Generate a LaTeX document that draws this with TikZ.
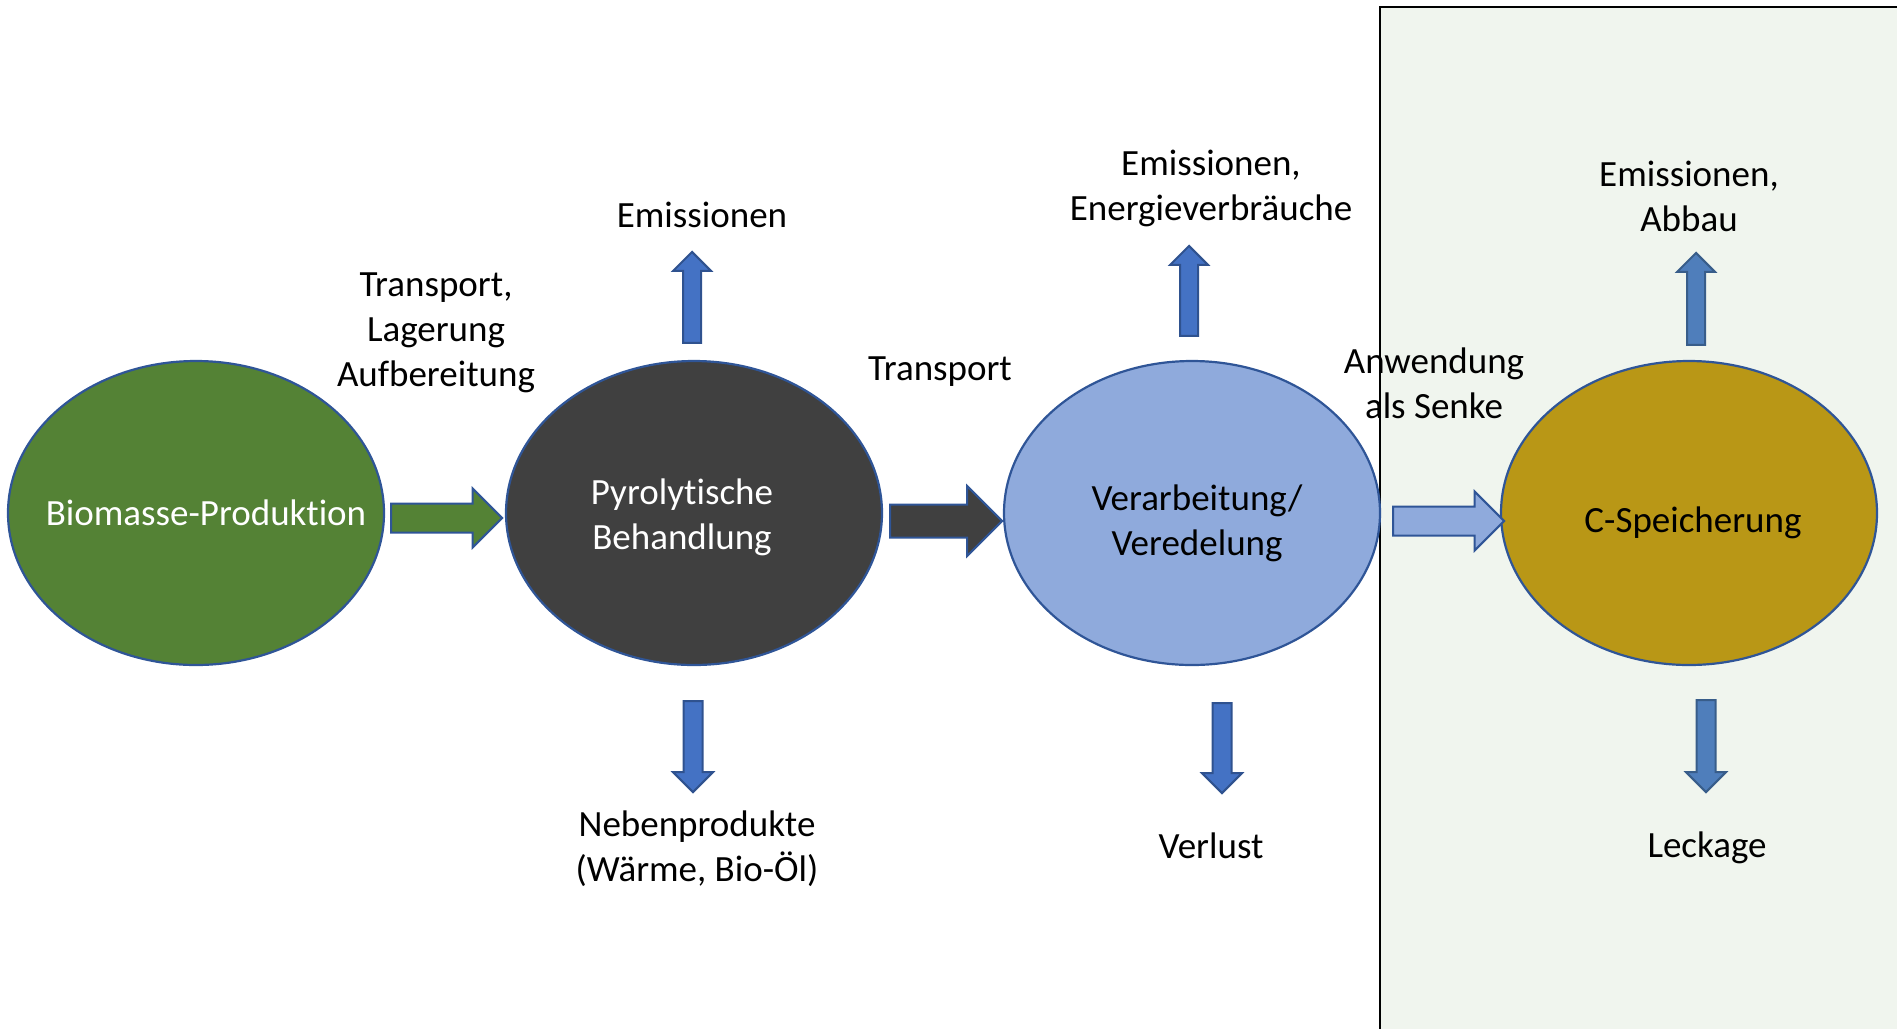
\documentclass[tikz,border=0pt]{standalone}
\usepackage{fontspec}
\setmainfont{Carlito}[Ligatures=NoCommon]
\usetikzlibrary{shapes.geometric}

\definecolor{biogreen}{HTML}{548235}
\definecolor{pyrogray}{HTML}{404040}
\definecolor{procblue}{HTML}{8FAADC}
\definecolor{storegold}{HTML}{B99716}
\definecolor{edgeblue}{HTML}{2F5597}
\definecolor{arrowblue}{HTML}{4472C4}
\definecolor{arrowedge}{HTML}{2F528F}
\definecolor{oldblue}{HTML}{4F7EBB}
\definecolor{oldedge}{HTML}{385D8A}
\definecolor{boxfill}{HTML}{F0F5EE}

\tikzset{
  stage/.style={ellipse, draw=edgeblue, line width=2.2pt, minimum width=376pt, minimum height=304pt, inner sep=0pt},
  txt/.style={font=\fontsize{37}{45}\selectfont, align=center, inner sep=0pt},
  flow/.style={draw=arrowedge, line width=2pt},
  pics/fatarrow/.style args={#1/#2/#3}{code={
    \path[pic actions] (0,-#2) -- ({#1-#3},-#2) -- ({#1-#3},-#3) -- (#1,0)
      -- ({#1-#3},#3) -- ({#1-#3},#2) -- (0,#2) -- cycle;
  }},
}

\begin{document}
\begin{tikzpicture}[x=1pt,y=-1pt]
  \useasboundingbox (0,0) rectangle (1897,1029);

  % storage frame
  \fill[boxfill] (1380,7) rectangle (1897,1029);
  \draw[line width=2.5pt] (1897,7) -- (1380,7) -- (1380,1029);

  % process stages
  \node[stage, fill=biogreen] (bio) at (196,513) {};
  \node[stage, fill=pyrogray] (pyro) at (694,513) {};
  \node[stage, fill=procblue] (proc) at (1192,513) {};
  \node[stage, fill=storegold] (store) at (1689,513) {};

  \node[txt, white] (biolbl) at (206,513) {Biomasse-Produktion};
  \node[txt, white] (pyrolbl) at (682,517) {Pyrolytische\\Behandlung};
  \node[txt] (proclbl) at (1197,523) {Verarbeitung/\\Veredelung};
  \node[txt] (storelbl) at (1693,523) {C-Speicherung};

  % main flow
  \pic[flow, fill=biogreen, draw=edgeblue] at ([xshift=6pt,yshift=-5pt]bio.east) {fatarrow=111/14.5/29.5};
  \pic[flow, fill=pyrogray, draw=edgeblue] at ([xshift=7pt,yshift=-8pt]pyro.east) {fatarrow=112/16.5/35};
  \pic[flow, fill=procblue, draw=edgeblue] at ([xshift=12pt,yshift=-8pt]proc.east) {fatarrow=111/14.5/29.5};

  % side flows
  \pic[flow, fill=arrowblue, rotate=90] at ([xshift=-2pt,yshift=17pt]pyro.north) {fatarrow=91/9/19};
  \pic[flow, fill=arrowblue, rotate=-90] at ([xshift=-1pt,yshift=-35pt]pyro.south) {fatarrow=91/9.5/20};
  \pic[flow, fill=arrowblue, rotate=90] at ([xshift=-3pt,yshift=24pt]proc.north) {fatarrow=90/9/19};
  \pic[flow, fill=arrowblue, rotate=-90] at ([xshift=30pt,yshift=-37pt]proc.south) {fatarrow=90/9.5/20};
  \pic[flow, fill=oldblue, draw=oldedge, rotate=90] at ([xshift=7pt,yshift=15pt]store.north) {fatarrow=92/9/19};
  \pic[flow, fill=oldblue, draw=oldedge, rotate=-90] at ([xshift=17pt,yshift=-34pt]store.south) {fatarrow=92/9.5/20};

  % labels
  \node[txt] (transp1) at (436,333) {Transport,\\Lagerung\\Aufbereitung};
  \node[txt] (emis1) at (702,215) {Emissionen};
  \node[txt] (transp2) at (940,372) {Transport};
  \node[txt] (emis2) at (1211,188) {Emissionen,\\Energieverbräuche};
  \node[txt] (sink) at (1434,383) {Anwendung\\als Senke};
  \node[txt] (emis3) at (1689,196) {Emissionen,\\Abbau};
  \node[txt] (byprod) at (697,849) {Nebenprodukte\\(Wärme, Bio-Öl)};
  \node[txt] (loss) at (1211,846) {Verlust};
  \node[txt] (leak) at (1707,848) {Leckage};
\end{tikzpicture}
\end{document}
